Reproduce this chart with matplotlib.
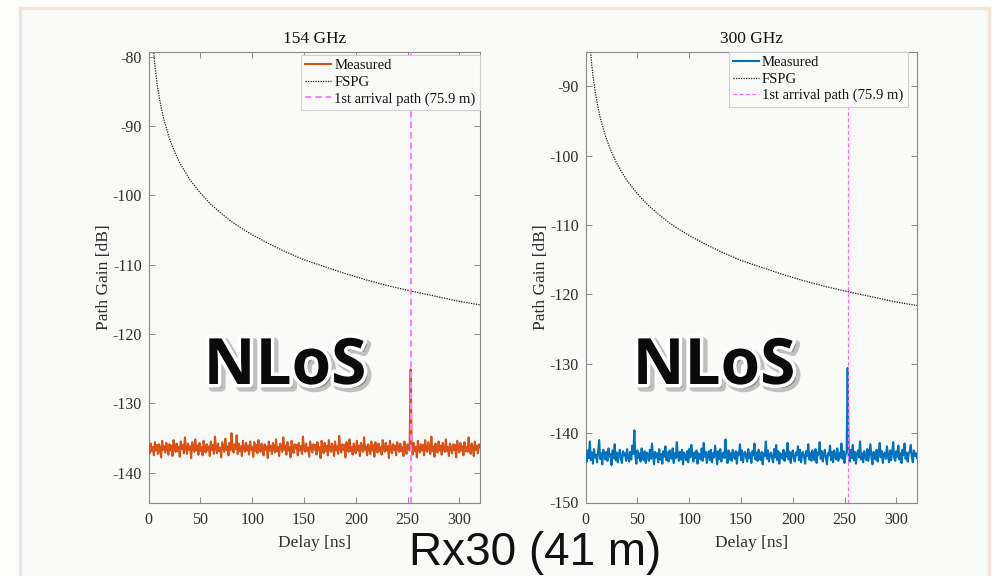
"""Rx30 (41 m) NLoS power delay profiles at 154 GHz and 300 GHz."""

import numpy as np
import matplotlib.pyplot as plt
import matplotlib.patheffects as pe
from matplotlib.patches import Rectangle

plt.rcParams["axes.unicode_minus"] = False

# ---- data ----
FREQ_TITLES = ["154 GHz", "300 GHz"]
FIRST_PATH_NS = 253.0  # 75.9 m
FIRST_PATH_LABEL = "1st arrival path (75.9 m)"

# FSPG curves (delay [ns], path gain [dB])
fspg_154_delay = [3.5, 4, 5, 6, 7, 8, 10, 12, 14, 17, 20, 25, 30, 35, 40, 50, 60, 70,
                  80, 90, 100, 115, 130, 150, 170, 190, 210, 230, 253, 275, 300, 320]
fspg_154_gain = [-76.6, -77.8, -79.7, -81.3, -82.6, -83.8, -85.7, -87.3, -88.7, -90.3,
                 -91.8, -93.7, -95.3, -96.6, -97.8, -99.7, -101.3, -102.6, -103.8,
                 -104.8, -105.7, -106.9, -108.0, -109.3, -110.3, -111.3, -112.2,
                 -113.0, -113.8, -114.5, -115.3, -115.8]
fspg_300_delay = [3, 3.5, 4, 5, 6, 7, 8, 10, 12, 14, 17, 20, 25, 30, 35, 40, 50, 60, 70,
                  80, 90, 100, 115, 130, 150, 170, 190, 210, 230, 253, 275, 300, 320]
fspg_300_gain = [-81.1, -82.4, -83.6, -85.5, -87.1, -88.4, -89.6, -91.5, -93.1, -94.5,
                 -96.1, -97.6, -99.5, -101.1, -102.4, -103.6, -105.5, -107.1, -108.4,
                 -109.6, -110.6, -111.5, -112.7, -113.8, -115.1, -116.1, -117.1,
                 -118.0, -118.8, -119.6, -120.3, -121.1, -121.6]

# measured PDP, one sample per ns starting at 0 ns
measured_154 = [
    -136.1, -137.2, -135.8, -136.9, -136.3, -137.5, -135.6, -136.8, -136.0, -137.3,
    -135.9, -136.6, -137.8, -135.4, -136.7, -136.2, -137.1, -135.7, -136.5, -137.4,
    -135.9, -136.8, -136.1, -137.6, -135.3, -136.4, -137.0, -135.8, -136.9, -136.3,
    -137.7, -135.5, -136.6, -136.0, -137.2, -134.9, -136.5, -137.3, -135.8, -136.7,
    -136.2, -137.9, -135.6, -136.4, -137.0, -135.2, -136.8, -136.1, -137.4, -135.7,
    -136.9, -136.3, -137.5, -135.4, -136.6, -137.1, -135.9, -136.8, -136.2, -137.6,
    -135.5, -136.7, -136.0, -137.3, -134.8, -136.5, -137.2, -135.8, -136.9, -136.4,
    -137.8, -135.6, -136.3, -137.0, -135.1, -136.7, -136.2, -137.5, -135.7, -136.8,
    -134.3, -136.4, -137.1, -135.9, -136.6, -134.6, -137.3, -135.8, -136.9, -136.2,
    -137.6, -135.4, -136.5, -137.0, -135.7, -136.8, -136.1, -137.4, -135.5, -136.7,
    -136.3, -137.7, -135.6, -136.9, -136.0, -137.2, -135.3, -136.6, -137.0, -135.8,
    -136.4, -137.5, -135.9, -136.7, -136.2, -137.9, -135.5, -136.8, -136.1, -137.3,
    -135.7, -136.5, -137.1, -135.2, -136.9, -136.3, -137.6, -135.8, -136.4, -137.0,
    -134.9, -136.7, -136.1, -137.4, -135.6, -136.8, -136.3, -137.8, -135.4, -136.6,
    -137.2, -135.9, -136.5, -136.0, -137.5, -135.7, -136.8, -136.2, -137.3, -134.8,
    -136.6, -137.0, -135.8, -136.9, -136.4, -137.7, -135.5, -136.3, -137.1, -135.9,
    -136.7, -136.0, -137.4, -135.6, -136.8, -136.3, -137.9, -135.4, -136.5, -137.2,
    -135.7, -136.9, -136.1, -137.5, -135.3, -136.6, -137.0, -135.8, -136.4, -137.6,
    -135.5, -136.8, -136.2, -137.3, -134.7, -136.5, -137.1, -135.9, -136.7, -136.0,
    -137.8, -135.6, -136.4, -137.0, -135.2, -136.9, -136.3, -137.4, -135.8, -136.6,
    -137.2, -135.4, -136.8, -136.1, -137.6, -135.7, -136.5, -137.0, -134.9, -136.7,
    -136.2, -137.5, -135.9, -136.4, -137.3, -135.5, -136.8, -136.0, -137.7, -135.6,
    -136.6, -137.1, -135.8, -136.9, -136.3, -137.4, -135.3, -136.5, -137.0, -135.7,
    -136.8, -136.2, -137.9, -135.4, -136.6, -137.2, -135.9, -136.7, -136.1, -137.5,
    -135.6, -136.4, -137.0, -135.8, -136.9, -136.3, -137.6, -135.5, -136.7, -137.3,
    -135.9, -136.5, -136.8, -125.1, -136.2, -137.4, -135.7, -136.9, -136.3, -137.8,
    -135.4, -136.6, -137.1, -135.9, -136.8, -136.0, -137.5, -135.3, -136.7, -137.0,
    -135.6, -136.4, -137.3, -134.8, -136.9, -136.2, -137.7, -135.8, -136.5, -137.1,
    -135.5, -136.8, -136.1, -137.4, -135.7, -136.6, -137.0, -135.2, -136.9, -136.3,
    -137.6, -135.8, -136.4, -137.2, -135.9, -136.7, -136.0, -137.8, -135.4, -136.5,
    -137.1, -135.7, -136.8, -136.2, -137.5, -135.6, -136.9, -136.3, -137.0, -134.9,
    -136.6, -137.3, -135.8, -136.4, -137.6, -135.5, -136.7, -136.1, -137.2, -135.9,
    -136.3,
]
measured_300 = [
    -143.0, -144.1, -142.5, -143.6, -141.2, -143.9, -142.8, -144.4, -142.3, -143.5,
    -143.1, -144.2, -142.6, -141.0, -143.7, -142.9, -144.5, -142.4, -143.3, -143.8,
    -142.7, -144.0, -142.2, -143.4, -143.0, -144.6, -142.5, -143.6, -141.6, -143.9,
    -142.8, -144.2, -143.1, -142.4, -143.7, -144.3, -142.6, -143.2, -142.9, -144.0,
    -142.3, -143.5, -144.1, -142.7, -143.8, -141.8, -143.0, -139.6, -143.4, -144.4,
    -142.5, -143.6, -142.9, -144.1, -142.2, -143.3, -143.9, -142.6, -144.3, -142.8,
    -143.1, -144.0, -142.4, -143.7, -141.5, -143.2, -144.5, -142.7, -143.5, -142.9,
    -144.2, -142.3, -143.8, -143.0, -144.4, -142.6, -143.4, -141.9, -143.9, -142.8,
    -144.1, -142.5, -143.3, -143.7, -142.2, -144.3, -142.9, -143.6, -141.3, -143.1,
    -144.0, -142.7, -143.8, -142.4, -144.5, -142.8, -143.2, -143.9, -142.6, -144.2,
    -142.3, -143.5, -141.7, -143.0, -144.1, -142.8, -143.6, -142.5, -144.4, -142.9,
    -143.3, -143.8, -142.2, -144.0, -141.4, -143.4, -142.7, -144.3, -143.1, -142.6,
    -143.9, -142.4, -144.2, -142.9, -143.5, -141.8, -143.2, -144.5, -142.6, -143.7,
    -142.3, -144.1, -143.0, -142.8, -143.6, -140.9, -143.4, -144.3, -142.5, -143.8,
    -142.9, -144.0, -142.4, -143.3, -143.7, -142.6, -144.4, -142.8, -143.1, -141.6,
    -143.9, -142.5, -144.2, -143.0, -142.7, -143.5, -144.1, -142.3, -143.6, -142.9,
    -144.3, -142.6, -143.2, -141.5, -143.8, -142.8, -144.0, -142.4, -143.4, -143.9,
    -142.7, -144.5, -142.9, -143.3, -141.2, -143.7, -142.5, -144.1, -143.0, -142.8,
    -143.6, -144.2, -142.3, -143.5, -141.7, -143.9, -142.6, -144.4, -142.9, -143.1,
    -143.7, -142.4, -144.0, -142.8, -143.4, -141.4, -143.8, -142.7, -144.3, -143.0,
    -142.5, -143.6, -144.1, -142.8, -143.2, -141.9, -143.9, -142.4, -144.2, -143.0,
    -142.7, -143.5, -144.4, -142.6, -143.3, -141.6, -143.8, -142.9, -144.0, -142.5,
    -143.4, -143.9, -142.3, -144.3, -142.8, -143.1, -141.3, -143.7, -142.6, -144.1,
    -143.0, -142.4, -143.6, -144.5, -142.9, -143.2, -141.8, -143.9, -142.7, -144.2,
    -142.5, -143.4, -143.8, -142.2, -144.0, -142.9, -143.5, -141.5, -143.7, -142.6,
    -144.3, -143.1, -142.8, -130.6, -143.3, -144.1, -142.4, -143.6, -141.7, -143.9,
    -142.7, -144.4, -143.0, -142.5, -143.5, -141.2, -143.8, -142.9, -144.2, -142.6,
    -143.4, -143.9, -142.3, -144.0, -142.8, -141.6, -143.6, -144.5, -142.7, -143.2,
    -143.8, -142.4, -144.1, -142.9, -141.4, -143.5, -142.6, -144.3, -143.0, -142.8,
    -143.7, -141.9, -143.3, -144.2, -142.5, -143.9, -142.7, -141.3, -143.6, -144.0,
    -142.6, -143.4, -141.8, -143.8, -142.9, -144.3, -142.4, -143.2, -141.5, -143.7,
    -142.8, -144.1, -143.0, -142.6, -141.7, -143.5, -144.2, -142.5, -143.3, -142.9,
    -143.6,
]

X_TICKS = [0, 50, 100, 150, 200, 250, 300]
Y_TICKS_154 = [-140, -130, -120, -110, -100, -90, -80]
Y_TICKS_300 = [-150, -140, -130, -120, -110, -100, -90]

# ---- style ----
SERIF = "Liberation Serif"
BG_OUT = "#fdfdfc"
BG_PANEL = "#fafaf8"
AX_COL = "#8a8a8a"
TXT_COL = "#2e2e2e"

fig = plt.figure(figsize=(9.92, 5.76), dpi=100, facecolor=BG_OUT)

# slide panel with beige frame (kept behind the axes)
fig.patches.append(Rectangle((20 / 992, -0.05), 969 / 992, 1.05 - 8 / 576,
                             transform=fig.transFigure, facecolor=BG_PANEL,
                             edgecolor="#f2e3d6", lw=2.5, zorder=-5))

panels = [
    dict(left=148.7, delay=fspg_154_delay, fspg=fspg_154_gain, meas=measured_154,
         color="#D95319", ylim=(-144.3, -79.3), yticks=Y_TICKS_154,
         vcol="#ff7fff", vlw=1.5, leg_anchor=(1.0, 0.993), nlos_x=285),
    dict(left=585.7, delay=fspg_300_delay, fspg=fspg_300_gain, meas=measured_300,
         color="#0072BD", ylim=(-150, -85), yticks=Y_TICKS_300,
         vcol="#ff66ff", vlw=0.9, leg_anchor=(0.972, 1.0), nlos_x=714),
]

for p, title in zip(panels, FREQ_TITLES):
    ax = fig.add_axes([p["left"] / 992, 1 - 502.5 / 576, 331.3 / 992, 450.8 / 576])
    ax.set_zorder(1)
    ax.set_facecolor("none")
    delay = np.arange(len(p["meas"]), dtype=float)
    ax.plot(delay, p["meas"], color=p["color"], lw=1.5, label="Measured", zorder=3)
    ax.plot(p["delay"], p["fspg"], color="#1a1a1a", lw=0.9, ls=(0, (1, 1)),
            label="FSPG", zorder=2)
    ax.axvline(FIRST_PATH_NS, color=p["vcol"], lw=p["vlw"], ls=(0, (3, 2)),
               label=FIRST_PATH_LABEL, zorder=4)

    ax.set_xlim(0, 320)
    ax.set_ylim(*p["ylim"])
    ax.set_xticks(X_TICKS)
    ax.set_yticks(p["yticks"])
    ax.tick_params(direction="in", top=True, right=True, length=4, width=0.7,
                   color=AX_COL, labelcolor=TXT_COL, labelsize=11.5)
    ax.tick_params(axis="x", pad=7)
    ax.tick_params(axis="y", pad=5)
    for lab in ax.get_xticklabels() + ax.get_yticklabels():
        lab.set_family(SERIF)
    for sp in ax.spines.values():
        sp.set_color(AX_COL)
        sp.set_linewidth(0.8)

    ax.set_title(title, family=SERIF, fontsize=12.5, color="#111111", pad=6)
    ax.set_xlabel("Delay [ns]", family=SERIF, fontsize=12.5, color=TXT_COL, labelpad=5)
    ax.set_ylabel("Path Gain [dB]", family=SERIF, fontsize=12.5, color=TXT_COL,
                  labelpad=0)

    leg = ax.legend(loc="upper right", bbox_to_anchor=p["leg_anchor"],
                    borderaxespad=0, prop={"family": SERIF, "size": 10.5},
                    handlelength=1.8, handletextpad=0.2, labelspacing=0.22,
                    borderpad=0.3, fancybox=False, facecolor=BG_PANEL,
                    edgecolor="#cfcfcf", framealpha=1.0)
    leg.get_frame().set_linewidth(0.8)
    for t in leg.get_texts():
        t.set_color("#111111")

    fig.text(p["nlos_x"] / 992, 1 - 384 / 576, "NLoS", family="Open Sans",
             weight="bold", fontsize=46, color="#0a0a0a", ha="center",
             va="baseline", zorder=10,
             path_effects=[pe.Stroke(linewidth=6, foreground="#9a9a9a",
                                     offset=(2.5, -2.5), alpha=0.6),
                           pe.Stroke(linewidth=5, foreground="white"),
                           pe.Normal()])

fig.text(535 / 992, 1 - 565 / 576, "Rx30 (41 m)", family="Liberation Sans",
         fontsize=33, color="#111111", ha="center", va="baseline", zorder=10)

fig.savefig("out.png", dpi=100, facecolor=fig.get_facecolor())
